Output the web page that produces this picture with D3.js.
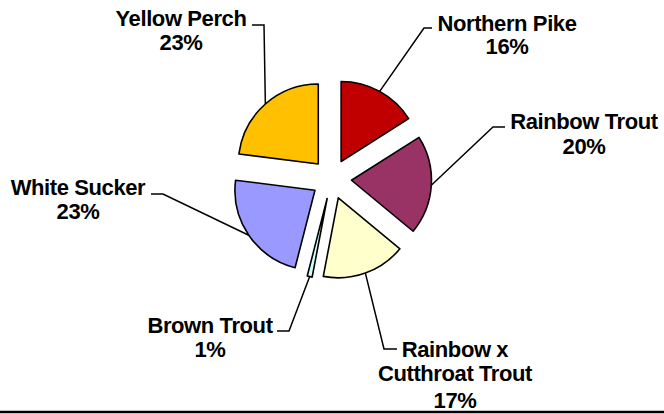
<!DOCTYPE html>
<html>
<head>
<meta charset="utf-8">
<script src="https://cdn.jsdelivr.net/npm/d3@7"></script>
<style>
  html, body { margin: 0; padding: 0; background: #fff; }
  svg { display: block; }
</style>
</head>
<body>
<div id="chart"></div>
<script>
// fish species share (%)
var categories = ["Northern Pike", "Rainbow Trout", "Rainbow x Cutthroat Trout", "Brown Trout", "White Sucker", "Yellow Perch"];
var values = [16, 20, 17, 1, 23, 23];
var labelLines = [["Northern Pike"], ["Rainbow Trout"], ["Rainbow x", "Cutthroat Trout"], ["Brown Trout"], ["White Sucker"], ["Yellow Perch"]];
var colors = ["#C00000", "#993366", "#FFFFCC", "#CCFFFF", "#9999FF", "#FFC000"];

// label placement (text centre x, baselines, leader elbow + end)
var labelLayout = [
  {x: 507, y: [31, 54],        leader: [[424, 28], [432, 28]]},
  {x: 584, y: [129, 154],      leader: [[493, 127], [505, 127]]},
  {x: 455, y: [357, 381, 408], leader: [[384, 349], [397, 349]]},
  {x: 210, y: [333, 357],      leader: [[289, 331], [277, 331]]},
  {x: 78,  y: [195, 219],      leader: [[163, 194], [151, 194]]},
  {x: 181, y: [26, 50],        leader: [[264, 25], [252, 25]]}
];

var W = 664, H = 414;
var cx = 331.5, cy = 179, r = 80, explode = 20;

var svg = d3.select("#chart")
  .append("svg")
  .attr("width", W)
  .attr("height", H);

var total = d3.sum(values);
var pie = d3.pie().sort(null).value(function(d) { return d; });
var arcs = pie(values);
var arc = d3.arc().innerRadius(0).outerRadius(r);

function mid(d) { return (d.startAngle + d.endAngle) / 2; }
function offset(d, dist) {
  var a = mid(d);
  return [dist * Math.sin(a), -dist * Math.cos(a)];
}

var g = svg.append("g").attr("transform", "translate(" + cx + "," + cy + ")");

g.selectAll("path.slice")
  .data(arcs)
  .enter()
  .append("path")
  .attr("class", "slice")
  .attr("d", arc)
  .attr("transform", function(d) {
    var o = offset(d, explode);
    return "translate(" + o[0] + "," + o[1] + ")";
  })
  .attr("fill", function(d, i) { return colors[i]; })
  .attr("stroke", "#000")
  .attr("stroke-width", 1.6)
  .attr("stroke-linejoin", "round");

// leader lines
var line = d3.line();
svg.selectAll("path.leader")
  .data(arcs)
  .enter()
  .append("path")
  .attr("class", "leader")
  .attr("d", function(d, i) {
    var o = offset(d, explode + r);
    var pts = [[cx + o[0], cy + o[1]]].concat(labelLayout[i].leader);
    return line(pts);
  })
  .attr("fill", "none")
  .attr("stroke", "#000")
  .attr("stroke-width", 1.5);

// labels
var labels = svg.selectAll("text.label")
  .data(arcs)
  .enter()
  .append("text")
  .attr("class", "label")
  .attr("text-anchor", "middle")
  .attr("font-family", "'Liberation Sans', Arial, sans-serif")
  .attr("font-weight", "bold")
  .attr("font-size", "22px")
  .attr("letter-spacing", "-0.4px")
  .attr("fill", "#000");

labels.each(function(d, i) {
  var t = d3.select(this);
  var lines = labelLines[i].concat([Math.round(values[i] / total * 100) + "%"]);
  lines.forEach(function(s, k) {
    t.append("tspan")
      .attr("x", labelLayout[i].x)
      .attr("y", labelLayout[i].y[k])
      .text(s);
  });
});

// bottom frame line
svg.append("line")
  .attr("x1", 0)
  .attr("x2", W)
  .attr("y1", 412)
  .attr("y2", 412)
  .attr("stroke", "#000")
  .attr("stroke-width", 2.5);
</script>
</body>
</html>
